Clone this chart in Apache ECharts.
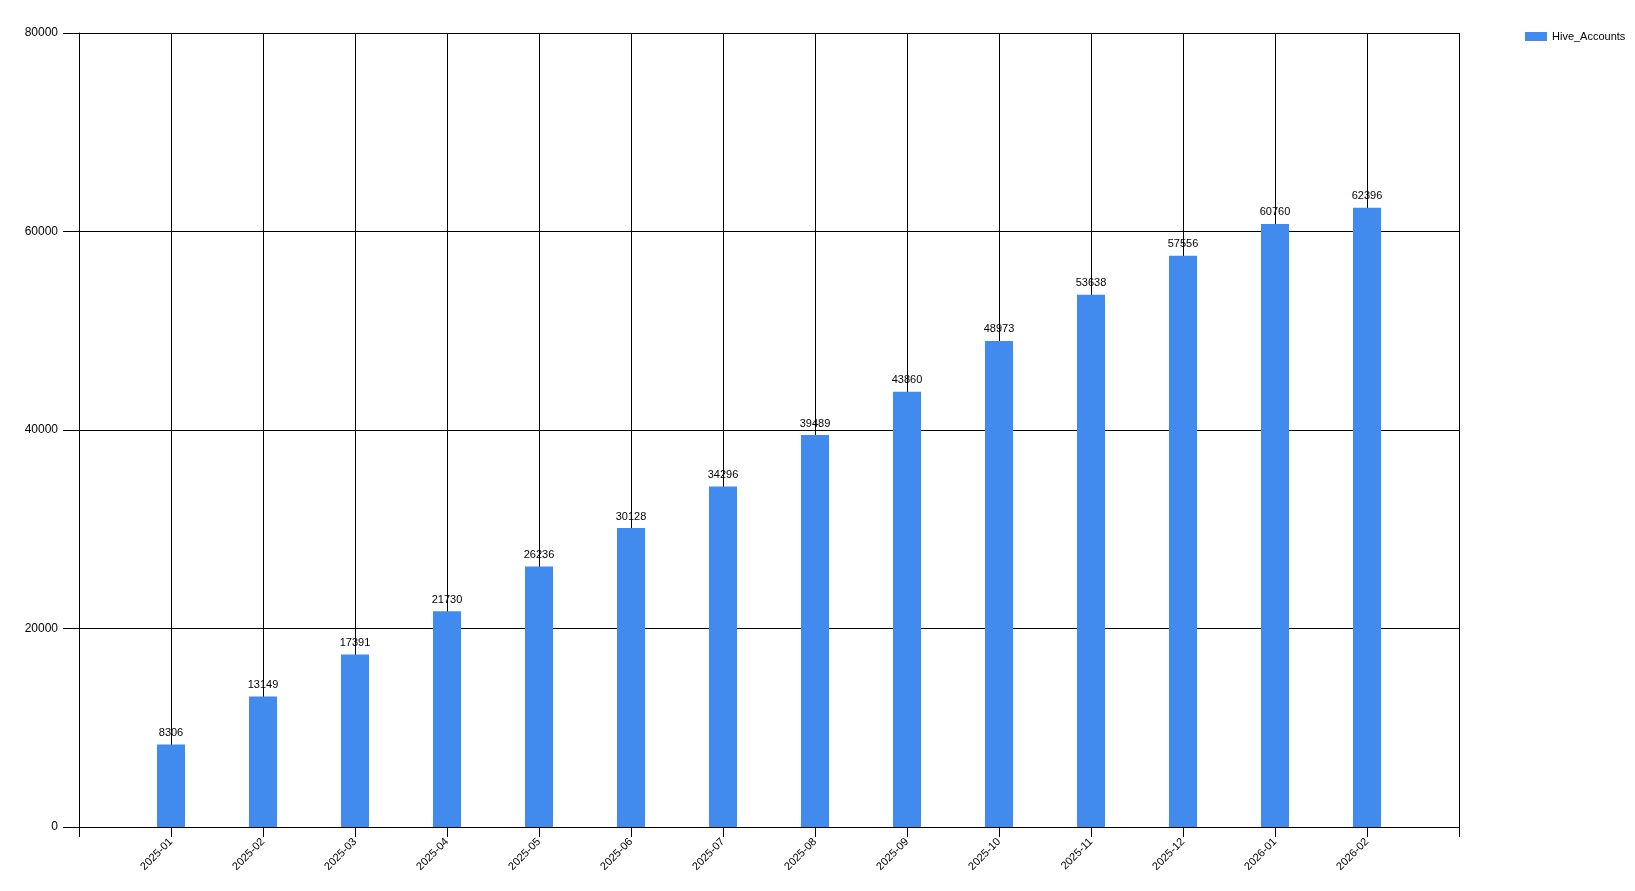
<!DOCTYPE html>
<html>
<head>
<meta charset="utf-8">
<script src="https://cdn.jsdelivr.net/npm/echarts@6/dist/echarts.min.js"></script>
<style>
html,body{margin:0;padding:0;background:#fff;}
#chart{width:1635px;height:891px;}
</style>
</head>
<body>
<div id="chart"></div>
<script>
const categories = ['2025-01','2025-02','2025-03','2025-04','2025-05','2025-06','2025-07','2025-08','2025-09','2025-10','2025-11','2025-12','2026-01','2026-02'];
const hiveAccounts = [8306,13149,17391,21730,26236,30128,34296,39489,43860,48973,53638,57556,60760,62396];
const seriesName = 'Hive_Accounts';
const yTicks = [0,20000,40000,60000,80000];

const font = '"Liberation Sans", Arial, sans-serif';
const chart = echarts.init(document.getElementById('chart'));
chart.setOption({
  animation: false,
  backgroundColor: '#fff',
  legend: {
    show: true,
    left: 1520,
    top: 26,
    itemWidth: 22,
    itemHeight: 9,
    itemGap: 5,
    icon: 'rect',
    textStyle: {fontFamily: font, fontSize: 11, color: '#000'},
    data: [seriesName]
  },
  grid: {left: 79, right: 176, top: 33, bottom: 64, containLabel: false},
  xAxis: {
    type: 'value',
    min: 0,
    max: categories.length + 1,
    interval: 1,
    axisLine: {show: true, lineStyle: {color: '#000', width: 1}},
    axisTick: {show: true, length: 10, lineStyle: {color: '#000'}},
    axisLabel: {
      show: true,
      rotate: 45,
      margin: 13,
      fontFamily: font,
      fontSize: 11,
      color: '#000',
      formatter: v => categories[v - 1] || ''
    },
    splitLine: {show: true, lineStyle: {color: '#000', width: 1}}
  },
  yAxis: {
    type: 'value',
    min: yTicks[0],
    max: yTicks[yTicks.length - 1],
    interval: yTicks[1] - yTicks[0],
    axisLine: {show: true, lineStyle: {color: '#000', width: 1}},
    axisTick: {show: true, length: 16, lineStyle: {color: '#000'}},
    axisLabel: {margin: 21, fontFamily: font, fontSize: 12, color: '#000', formatter: v => String(v)},
    splitLine: {show: true, lineStyle: {color: '#000', width: 1}}
  },
  series: [{
    name: seriesName,
    type: 'bar',
    barWidth: 28,
    itemStyle: {color: '#418BEE'},
    label: {
      show: true,
      position: 'top',
      distance: 6,
      fontFamily: font,
      fontSize: 11,
      color: '#000'
    },
    data: hiveAccounts.map((v, i) => [i + 1, v])
  }]
});
</script>
</body>
</html>
